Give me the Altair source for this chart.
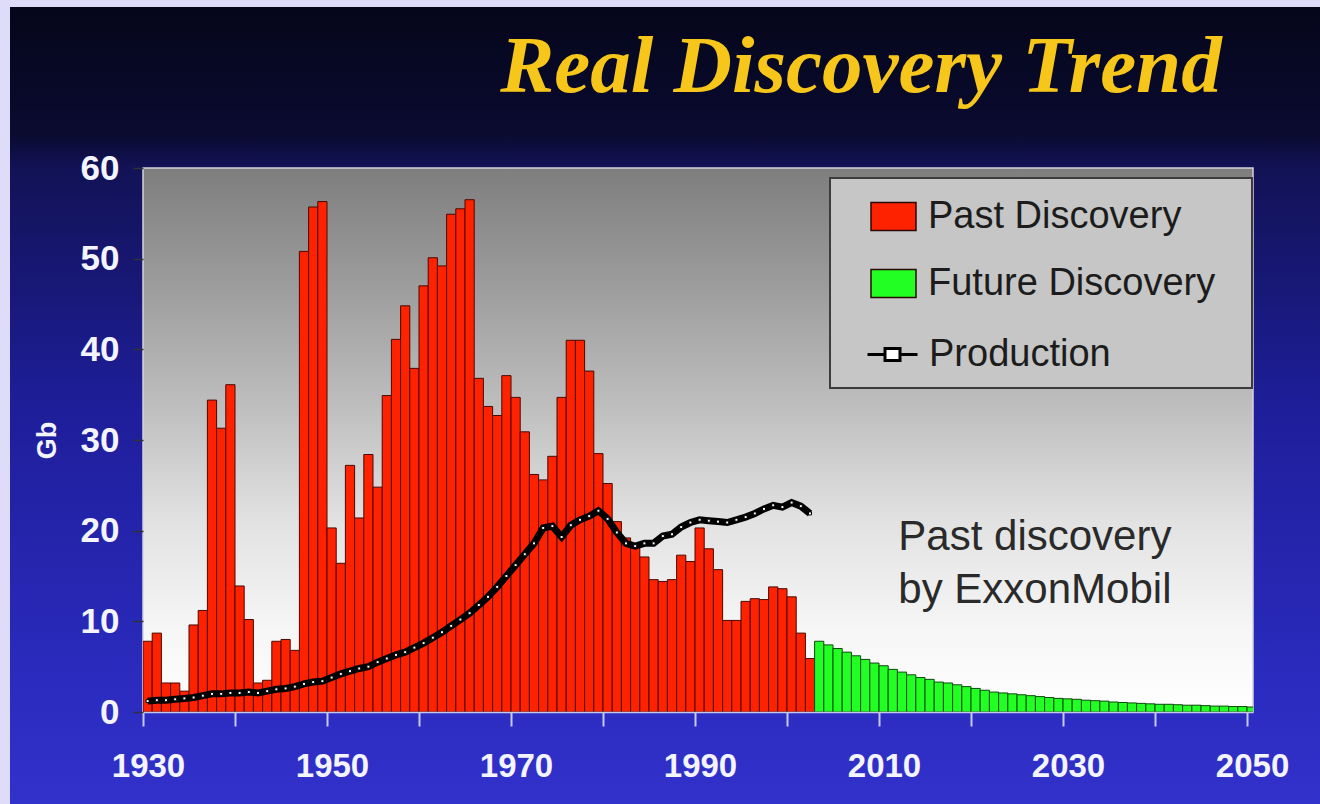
import altair as alt
import pandas as pd

# ---- data -----------------------------------------------------------------
past_years = list(range(1930, 2003))
past_gb = [
    7.8, 8.7, 3.2, 3.2, 2.3, 9.6, 11.2, 34.4, 31.3, 36.1,      # 1930s
    13.9, 10.2, 3.2, 3.5, 7.8, 8.0, 6.8, 50.8, 55.7, 56.3,     # 1940s
    20.3, 16.4, 27.2, 21.4, 28.4, 24.8, 34.9, 41.1, 44.8, 37.9, # 1950s
    47.0, 50.1, 49.2, 54.9, 55.5, 56.5, 36.8, 33.7, 32.7, 37.1, # 1960s
    34.7, 30.9, 26.2, 25.6, 28.2, 34.7, 41.0, 41.0, 37.6, 28.5, # 1970s
    25.2, 21.0, 19.2, 18.4, 17.1, 14.6, 14.4, 14.6, 17.3, 16.6, # 1980s
    20.3, 18.0, 15.7, 10.1, 10.1, 12.2, 12.5, 12.4, 13.8, 13.6, # 1990s
    12.7, 8.7, 5.9,                                             # 2000-2002
]

future_years = list(range(2003, 2051))
future_gb = [
    7.8, 7.4, 7.0, 6.6, 6.2, 5.8, 5.4,                           # 2003-2009
    5.1, 4.7, 4.4, 4.1, 3.8, 3.6, 3.3, 3.2, 3.0, 2.8,            # 2010s
    2.6, 2.4, 2.2, 2.1, 2.0, 1.9, 1.8, 1.7, 1.6, 1.5,            # 2020s
    1.45, 1.4, 1.3, 1.25, 1.2, 1.1, 1.05, 1.0, 0.95, 0.9,        # 2030s
    0.85, 0.85, 0.8, 0.75, 0.75, 0.7, 0.65, 0.65, 0.6, 0.6,      # 2040s
    0.55,                                                        # 2050
]

prod_years = list(range(1930, 2003))
prod_gb = [
    1.2, 1.3, 1.3, 1.4, 1.5, 1.6, 1.8, 2.0, 2.0, 2.1,
    2.1, 2.2, 2.1, 2.3, 2.5, 2.6, 2.8, 3.1, 3.3, 3.4,
    3.8, 4.2, 4.5, 4.8, 5.0, 5.5, 5.9, 6.3, 6.6, 7.1,
    7.6, 8.2, 8.8, 9.5, 10.2, 10.9, 11.8, 12.7, 13.8, 15.0,
    16.2, 17.4, 18.6, 20.3, 20.5, 19.3, 20.6, 21.2, 21.6, 22.2,
    21.3, 19.8, 18.6, 18.3, 18.6, 18.6, 19.4, 19.6, 20.4, 20.9,
    21.2, 21.1, 21.0, 20.9, 21.2, 21.5, 21.9, 22.4, 22.8, 22.6,
    23.1, 22.7, 21.9,
]

series_names = ["Past Discovery", "Future Discovery"]
series_colors = ["#ff2200", "#22ff22"]

note_lines = ["Past discovery", "by ExxonMobil"]
note_year = [2012.1, 2012.1]
note_gb = [17.9, 12.0]

x_ticks = list(range(1930, 2051, 10))
y_ticks = list(range(0, 61, 10))

# ---- tables ---------------------------------------------------------------
bars_df = pd.DataFrame({
    "year": past_years + future_years,
    "gb": past_gb + future_gb,
    "kind": [series_names[0]] * len(past_years) + [series_names[1]] * len(future_years),
})
bars_df["year_end"] = bars_df["year"] + 1

prod_df = pd.DataFrame({
    "year": [y + 0.5 for y in prod_years],
    "gb": prod_gb,
    "series": ["Production"] * len(prod_years),
})

note_df = pd.DataFrame({"year": note_year, "gb": note_gb, "label": note_lines})
one = pd.DataFrame({"k": [0]})

W, H = 1110, 544
PAD = {"left": 143, "top": 168, "right": 67, "bottom": 92}

SANS = "Liberation Sans, Arial, Helvetica, sans-serif"
SERIF = "Liberation Serif, Times New Roman, serif"

x_scale = alt.Scale(domain=[1930, 2050.65], nice=False, zero=False)
y_scale = alt.Scale(domain=[0, 60], nice=False)

# ---- backdrop -------------------------------------------------------------
slide_fill = alt.Gradient(
    gradient="linear", x1=0, x2=0, y1=0, y2=1,
    stops=[
        alt.GradientStop(color="#05061a", offset=0.0),
        alt.GradientStop(color="#0a0b30", offset=0.16),
        alt.GradientStop(color="#121255", offset=0.2),
        alt.GradientStop(color="#1e1e9a", offset=0.5),
        alt.GradientStop(color="#2b2bbf", offset=0.85),
        alt.GradientStop(color="#3232cc", offset=1.0),
    ],
)
slide = alt.Chart(one).mark_rect(fill=slide_fill).encode(
    x=alt.value(10 - PAD["left"]), x2=alt.value(W + PAD["right"]),
    y=alt.value(7 - PAD["top"]), y2=alt.value(H + PAD["bottom"]),
)

plot_fill = alt.Gradient(
    gradient="linear", x1=0, x2=0, y1=0, y2=1,
    stops=[
        alt.GradientStop(color="#7e7e7e", offset=0.0),
        alt.GradientStop(color="#9a9a9a", offset=0.2),
        alt.GradientStop(color="#c0c0c0", offset=0.45),
        alt.GradientStop(color="#e2e2e2", offset=0.65),
        alt.GradientStop(color="#f6f6f6", offset=0.85),
        alt.GradientStop(color="#ffffff", offset=1.0),
    ],
)
plot_bg = alt.Chart(one).mark_rect(fill=plot_fill, stroke="#d4d4dc", strokeWidth=1.5).encode(
    x=alt.value(0), x2=alt.value(W), y=alt.value(0), y2=alt.value(H),
)

# ---- discovery bars -------------------------------------------------------
bars = alt.Chart(bars_df).mark_bar(clip=True, strokeWidth=1).encode(
    x=alt.X(
        "year:Q", scale=x_scale,
        axis=alt.Axis(
            title=None, values=x_ticks, format="d", grid=False,
            labelExpr="datum.value % 20 == 10 ? datum.label : ''",
            labelOverlap=False, labelFlush=False, labelOffset=5,
            labelFont=SANS, labelFontSize=33, labelFontWeight="bold", labelColor="#f4f4ff",
            labelPadding=24, tickSize=14, tickWidth=2, tickColor="#c8c8f4",
            domain=True, domainColor="#c8c8ec", domainWidth=1.5, zindex=1,
        ),
    ),
    x2="year_end:Q",
    y=alt.Y(
        "gb:Q", scale=y_scale,
        axis=alt.Axis(
            title="Gb", values=y_ticks, grid=False, domain=False,
            labelFont=SANS, labelFontSize=35, labelFontWeight="bold", labelColor="#f4f4ff",
            labelPadding=14, tickSize=10, tickWidth=1.5, tickColor="#303038",
            titleFont=SANS, titleFontSize=27, titleFontWeight="bold", titleColor="#f4f4ff",
            titleX=-96, titleY=272, titleAlign="center", titleBaseline="middle",
            titleAngle=270, zindex=1,
        ),
    ),
    y2=alt.datum(0),
    fill=alt.Fill(
        "kind:N",
        scale=alt.Scale(domain=series_names, range=series_colors),
        legend=alt.Legend(
            title=None, orient="none", legendX=727, legendY=25, padding=0,
            symbolType="M-1,-0.62H1V0.62H-1Z", symbolSize=2025,
            symbolStrokeColor="#2a0a00", symbolStrokeWidth=1.5,
            labelFont=SANS, labelFontSize=38, labelColor="#1c1c1c",
            labelOffset=11, rowPadding=24, labelLimit=400,
        ),
    ),
    stroke=alt.condition(
        alt.datum.kind == series_names[0], alt.value("#4a0800"), alt.value("#0a4a0a")
    ),
)

# ---- production line ------------------------------------------------------
prod_line = alt.Chart(prod_df).mark_line(strokeWidth=7).encode(
    x=alt.X("year:Q", scale=x_scale),
    y=alt.Y("gb:Q", scale=y_scale),
    stroke=alt.Stroke(
        "series:N",
        scale=alt.Scale(domain=["Production"], range=["#000000"]),
        legend=alt.Legend(
            title=None, orient="none", legendX=723, legendY=160, padding=0,
            symbolType="M-1,0H-0.3M0.3,0H1M-0.3,-0.24H0.3V0.24H-0.3Z",
            symbolSize=2500, symbolStrokeWidth=3, symbolFillColor="#ffffff",
            labelFont=SANS, labelFontSize=38, labelColor="#1c1c1c", labelOffset=10,
            labelLimit=400,
        ),
    ),
)
prod_pts = alt.Chart(prod_df).mark_point(
    shape="square", filled=True, fill="#ffffff", stroke="#000000",
    strokeWidth=1, size=9, opacity=1,
).encode(
    x=alt.X("year:Q", scale=x_scale),
    y=alt.Y("gb:Q", scale=y_scale),
)

# ---- annotations ----------------------------------------------------------
note = alt.Chart(note_df).mark_text(
    align="left", baseline="alphabetic", font=SANS, fontSize=42, color="#2a2a2a",
).encode(
    x=alt.X("year:Q", scale=x_scale),
    y=alt.Y("gb:Q", scale=y_scale),
    text="label:N",
)

legend_box = alt.Chart(one).mark_rect(fill="#c6c6c6", stroke="#3c3c3c", strokeWidth=2).encode(
    x=alt.value(687), x2=alt.value(1109), y=alt.value(10), y2=alt.value(220),
)

title = alt.Chart(one).mark_text(
    align="center", baseline="alphabetic", font=SERIF, fontSize=81,
    fontStyle="italic", fontWeight="bold", color="#f7c61a",
).encode(
    x=alt.value(718), y=alt.value(-76), text=alt.value("Real Discovery Trend"),
)

chart = alt.layer(
    slide, plot_bg, bars, prod_line, prod_pts, note, legend_box, title
).properties(
    width=W, height=H, padding=PAD, autosize="none", background="#dedcf8",
).configure_view(strokeWidth=0)

chart.save("out.html", embed_options={"renderer": "svg", "actions": False})
